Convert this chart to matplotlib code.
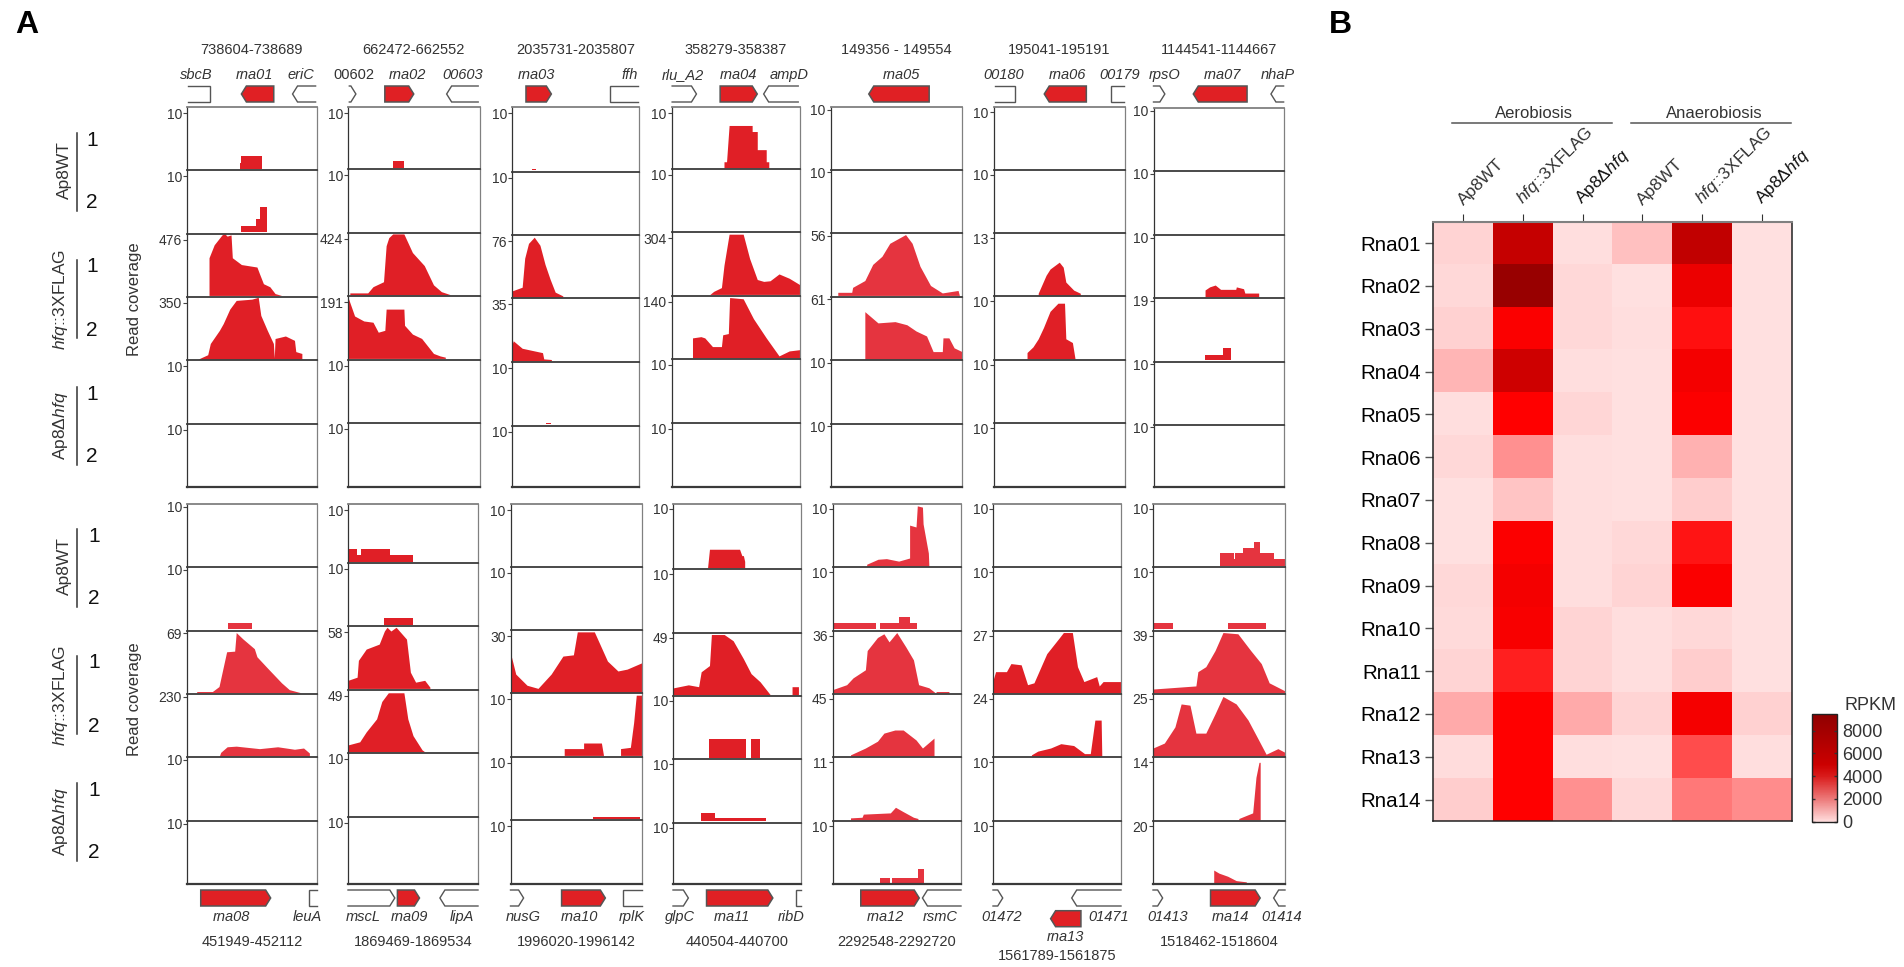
import matplotlib
matplotlib.use("Agg")
import matplotlib.pyplot as plt
from matplotlib.cm import ScalarMappable
from matplotlib.colors import LinearSegmentedColormap, Normalize
from matplotlib.patches import Polygon
import numpy as np

plt.rcParams["font.family"] = ["Liberation Sans", "DejaVu Sans"]
plt.rcParams["mathtext.fontset"] = "custom"
plt.rcParams["mathtext.rm"] = "Liberation Sans"
plt.rcParams["mathtext.it"] = "Liberation Sans:italic"

W, H = 1904, 967

# --- panel A data -----------------------------------------------------------
# coverage tracks: (position in window %, coverage in % of track height)
rna01_wt1 = [(41, 0), (41, 10), (42, 10), (42, 20), (58, 20), (58, 0)]
rna01_wt2 = [(42, 0), (42, 10), (53, 10), (53, 21), (56, 21), (56, 40), (62, 40), (62, 0)]
rna01_f1 = [(17, 0), (17, 61), (21, 82), (27, 98), (29, 100), (31, 96), (34, 98), (35, 61), (42, 50), (54, 46), (56, 35), (59, 19), (64, 14), (68, 3), (73, 0)]
rna01_f2 = [(8.6, 0), (16, 7), (18, 25), (25, 46), (28, 57), (33, 80), (38, 94), (50, 96), (55, 99), (57, 70), (62, 46), (66.7, 25), (67.4, 2), (68, 33), (76, 37), (83, 30), (84, 12), (88.7, 9), (88.7, 0)]

rna02_wt1 = [(34, 0), (34, 12), (42.5, 12), (42.5, 0)]
rna02_f1 = [(1.4, 0), (1.4, 3), (15, 3), (19, 13), (27, 21), (29, 79), (31, 92), (34, 98), (42.5, 98), (49, 68), (58, 47), (65, 16), (71, 5), (78, 0)]
rna02_f2 = [(0, 98), (5, 68), (12, 60), (19, 58), (23, 42), (28, 45), (29, 79), (42.5, 79), (43, 53), (49, 39), (56, 32), (65, 8), (70, 4), (74, 2), (74, 0)]

rna03_wt1 = [(16, 0), (16, 3), (19, 3), (19, 0)]
rna03_f1 = [(0, 10), (8, 16), (10, 63), (13, 87), (17.5, 97), (22, 84), (26, 53), (30, 29), (34, 8), (40, 2), (40, 0)]
rna03_f2 = [(0, 26), (1, 32), (8, 20), (24, 13), (25, 3), (31, 2), (31, 0)]
rna03_d1 = [(27, 0), (27, 3), (31, 3), (31, 0)]

rna04_wt1 = [(41, 0), (41, 10), (43, 10), (45, 70), (63, 70), (63, 60), (67, 60), (67, 30), (74, 30), (74, 10), (76, 10), (76, 0)]
rna04_f1 = [(30, 0), (33, 5), (39, 11), (41, 47), (45, 97), (56, 97), (61, 58), (67, 24), (72, 21), (77, 22), (84, 33), (92, 26), (100, 16)]
rna04_f2 = [(16.4, 0), (16.4, 32), (23, 34), (26, 32), (32, 18), (39, 18), (40, 37), (44.4, 39), (45.4, 97), (56, 95), (64, 63), (74, 32), (84, 3), (92, 11), (100, 13)]

rna05_f1 = [(5.4, 0), (5.4, 5), (16, 5), (16.7, 13), (26, 24), (32, 50), (39, 63), (45, 84), (57, 98), (62, 84), (68, 47), (76, 16), (85, 4), (97, 8), (98, 0)]
rna05_f2 = [(26, 0), (26, 76), (36, 58), (49, 60), (58, 55), (65, 45), (73, 37), (78, 12), (85, 12), (85.5, 34), (90, 34), (94, 18), (100, 12)]

rna06_f1 = [(34, 0), (34, 3), (40, 32), (43, 42), (50, 53), (53, 45), (55, 21), (61, 8), (66, 3), (66, 0)]
rna06_f2 = [(25.5, 0), (25.5, 10), (30, 19), (34, 32), (38, 50), (43, 76), (49, 89), (54, 89), (55, 32), (60, 26), (62, 0)]

rna07_f1 = [(39.5, 0), (39.5, 11), (43, 16), (47.3, 19), (51.4, 12), (63, 12), (63.5, 16), (69, 13), (70, 6), (80.6, 6), (80.6, 0)]
rna07_f2 = [(39.5, 0), (39.5, 9), (53, 9), (53, 20), (59.5, 20), (59.5, 0)]

rna08_wt2 = [(31.6, 0), (31.6, 10), (50.5, 10), (50.5, 0)]
rna08_f1 = [(7.5, 0), (7.5, 2), (19.6, 2), (24.7, 10), (30.6, 66), (36.8, 67), (38, 97), (43, 87), (52, 71), (54, 58), (62.5, 39), (73, 16), (79, 5), (88, 0)]
rna08_f2 = [(25, 0), (26, 6), (31, 15), (38, 16), (56, 12), (70, 15), (83, 11), (90, 13), (94.5, 5), (94.5, 0)]

rna09_wt1 = [(0, 22), (7, 22), (7, 11), (10, 11), (10, 22), (32, 22), (32, 11), (50, 11), (50, 0)]
rna09_wt2 = [(27.6, 0), (27.6, 11.5), (50, 11.5), (50, 0)]
rna09_f1 = [(0, 13), (7, 18), (8, 45), (14, 63), (24, 71), (28, 92), (30, 98), (33, 92), (37, 98), (45, 79), (48, 26), (52, 10), (59, 13), (63, 2), (63, 0)]
rna09_f2 = [(0, 11), (9, 16), (14, 32), (22, 53), (26, 81), (31, 95), (43, 95), (46, 53), (50, 26), (57, 3), (59, 0)]

rna10_f1 = [(0, 63), (4, 29), (12.6, 11), (21, 6), (31, 29), (40, 58), (48, 60), (51, 97), (64, 97), (74, 50), (82, 34), (89, 37), (100, 47)]
rna10_f2 = [(41, 0), (41, 11), (55.8, 11), (55.8, 20), (69.4, 20), (71, 0), (84, 0), (84, 11), (91.5, 13), (94, 53), (96, 97), (100, 97)]
rna10_d1 = [(63, 0), (63, 3), (99, 3), (99, 0)]

rna11_wt1 = [(27, 0), (28.5, 29), (52, 29), (53.8, 19), (55, 19), (56, 10), (56, 0)]
rna11_f1 = [(0, 11), (12, 16), (20, 13), (22, 37), (28.5, 47), (30, 97), (40, 97), (47, 87), (55, 58), (61, 34), (68, 21), (76, 0), (93, 0), (93, 13), (98, 13), (98, 0)]
rna11_f2 = [(27.9, 0), (27.9, 30), (57, 30), (57, 0), (60.7, 0), (60.7, 30), (68, 30), (68, 0)]
rna11_d1 = [(22, 0), (22, 13), (32.5, 13), (32.5, 5), (73, 5), (73, 0)]

rna12_wt1 = [(26.6, 0), (26.6, 3), (35.4, 11), (42, 12), (51.5, 8), (60, 13), (60, 66), (65, 63), (66, 97), (70, 95), (70.5, 68), (74.6, 21), (75, 0)]
rna12_wt2 = [(1, 0), (1, 11), (34, 11), (34, 0), (37, 0), (37, 11), (52, 11), (52, 20), (60, 20), (60, 11), (65.6, 11), (65.6, 0)]
rna12_f1 = [(0, 5), (11, 13), (16, 24), (25.6, 37), (27, 68), (35, 89), (40, 95), (44, 82), (50, 97), (57, 74), (63, 53), (67, 13), (75, 8), (80, 0), (80.6, 0), (80.6, 2), (90.6, 2), (90.6, 0)]
rna12_f2 = [(14, 0), (14, 2), (25.6, 13), (35, 24), (40, 37), (48.5, 42), (55, 42), (65, 26), (70, 13), (79, 29), (79, 0)]
rna12_d1 = [(14, 0), (14, 3), (23, 4), (24, 9), (45, 11), (49, 20), (55, 13), (63, 4), (66.5, 2), (66.5, 0)]
rna12_d2 = [(37, 0), (37, 8), (44.6, 8), (44.6, 0), (46, 0), (46, 8), (66.6, 8), (66.6, 22), (71.5, 22), (71.5, 0)]

rna13_f1 = [(0, 20), (2, 34), (10.5, 34), (14, 47), (22, 45), (27, 13), (32, 16), (42, 63), (52, 89), (55, 97), (62, 97), (66, 42), (71, 18), (81, 26), (83, 11), (86, 18), (100, 18)]
rna13_f2 = [(30, 0), (30, 2), (35, 8), (45, 13), (53, 20), (63, 17), (71.5, 4), (76, 4), (79.6, 58), (84.5, 58), (85, 0)]

rna14_wt1 = [(50.6, 0), (50.6, 20), (61, 20), (61, 11), (62, 11), (62, 20), (68, 20), (68, 29), (76.4, 29), (76.4, 39), (81.2, 39), (81.2, 20), (91.4, 20), (91.4, 11), (100, 11)]
rna14_wt2 = [(0, 10), (15, 10), (15, 0), (57, 0), (57, 10), (85.7, 10), (85.7, 0)]
rna14_f1 = [(0, 6), (32.5, 11), (34, 34), (40, 42), (47, 68), (53, 97), (64.3, 95), (74, 68), (82, 47), (88, 16), (100, 3)]
rna14_f2 = [(0, 13), (8.6, 21), (16.6, 47), (21.3, 84), (28, 82), (32.5, 37), (40, 37), (47, 68), (53, 96), (63, 84), (72, 58), (80, 26), (85.7, 3), (94.6, 12), (100, 6)]
rna14_d1 = [(65, 0), (65, 2), (75.5, 11), (78, 68), (80.3, 92), (81.2, 92), (81.2, 0)]
rna14_d2 = [(46, 0), (46, 21), (50, 16), (56.6, 11), (63, 4), (70.7, 2), (70.7, 0)]

# one row per RNA, tracks: WT1, WT2, FLAG1, FLAG2, dHfq1, dHfq2
coverage = [
    [rna01_wt1, rna01_wt2, rna01_f1, rna01_f2, None, None],
    [rna02_wt1, None, rna02_f1, rna02_f2, None, None],
    [rna03_wt1, None, rna03_f1, rna03_f2, rna03_d1, None],
    [rna04_wt1, None, rna04_f1, rna04_f2, None, None],
    [None, None, rna05_f1, rna05_f2, None, None],
    [None, None, rna06_f1, rna06_f2, None, None],
    [None, None, rna07_f1, rna07_f2, None, None],
    [None, rna08_wt2, rna08_f1, rna08_f2, None, None],
    [rna09_wt1, rna09_wt2, rna09_f1, rna09_f2, None, None],
    [None, None, rna10_f1, rna10_f2, rna10_d1, None],
    [rna11_wt1, None, rna11_f1, rna11_f2, rna11_d1, None],
    [rna12_wt1, rna12_wt2, rna12_f1, rna12_f2, rna12_d1, rna12_d2],
    [None, None, rna13_f1, rna13_f2, None, None],
    [rna14_wt1, rna14_wt2, rna14_f1, rna14_f2, rna14_d1, rna14_d2],
]

track_scales = [
    [10, 10, 476, 350, 10, 10], [10, 10, 424, 191, 10, 10], [10, 10, 76, 35, 10, 10],
    [10, 10, 304, 140, 10, 10], [10, 10, 56, 61, 10, 10], [10, 10, 13, 10, 10, 10],
    [10, 10, 10, 19, 10, 10], [10, 10, 69, 230, 10, 10], [10, 10, 58, 49, 10, 10],
    [10, 10, 30, 10, 10, 10], [10, 10, 49, 10, 10, 10], [10, 10, 36, 45, 11, 10],
    [10, 10, 27, 24, 10, 10], [10, 10, 39, 25, 14, 20],
]

coords = ["738604-738689", "662472-662552", "2035731-2035807", "358279-358387",
          "149356 - 149554", "195041-195191", "1144541-1144667", "451949-452112",
          "1869469-1869534", "1996020-1996142", "440504-440700", "2292548-2292720",
          "1561789-1561875", "1518462-1518604"]

# genes: name, start %, end %, shape
# L/R filled arrow, oL/oR open arrow cut by the window, bL/bR open box cut by the window
genes = [
    [("sbcB", 0.7, 18, "bR"), ("rna01", 42, 67, "L"), ("eriC", 81.5, 99.3, "oL")],
    [("00602", 1, 6, "oR"), ("rna02", 28, 50, "R"), ("00603", 75, 99, "oL")],
    [("rna03", 11, 31, "R"), ("ffh", 77, 99, "bL")],
    [("rlu_A2", 0.5, 19.5, "oR"), ("rna04", 38, 67, "R"), ("ampD", 72, 99, "oL")],
    [("rna05", 29, 75, "L")],
    [("00180", 1, 16, "bR"), ("rna06", 38.6, 70.6, "L"), ("00179", 89, 99, "bL")],
    [("rpsO", 0, 8.7, "oR"), ("rna07", 30.5, 71.7, "L"), ("nhaP", 90, 99.7, "oL")],
    [("rna08", 10.6, 64.6, "R"), ("leuA", 94, 100, "bL")],
    [("mscL", 0, 36, "oR"), ("rna09", 38, 55, "R"), ("lipA", 70.7, 100, "oL")],
    [("nusG", 0, 10, "oR"), ("rna10", 39, 72.4, "R"), ("rplK", 86, 100, "bL")],
    [("glpC", 0, 12, "oR"), ("rna11", 26.2, 78, "R"), ("ribD", 96, 100, "bL")],
    [("rna12", 22, 67.5, "R"), ("rsmC", 70, 100, "oL")],
    [("01472", 0, 7.6, "oR"), ("rna13", 45, 68.7, "L"), ("01471", 61.5, 100, "oL")],
    [("01413", 0, 7.3, "oR"), ("rna14", 43.6, 81.2, "R"), ("01414", 91.4, 100, "oL")],
]
gene_label_x = [
    [7, 52, 88], [4.4, 45, 87], [19, 93], [9, 52, 92], [53.5], [8, 56, 96], [8.7, 53, 95],
    [34, 93], [12, 47.6, 88], [10, 52.7, 92.5], [5.6, 46, 92.5], [41, 84], [6.6, 56.6, 90],
    [11, 58.6, 97.8],
]

# --- panel B data -----------------------------------------------------------
rna_names = ["Rna%02d" % i for i in range(1, 15)]
strain_names = ["Ap8WT", r"$\mathit{hfq}$::3XFLAG", r"Ap8$\Delta\mathit{hfq}$"] * 2
rpkm_ap8wt_aer = [280, 170, 320, 880, 40, 170, 30, 30, 170, 120, 230, 1080, 80, 400]
rpkm_flag_aer = [6930, 8900, 4640, 6560, 4500, 1600, 560, 4600, 4950, 4800, 3860, 4500, 4500, 4500]
rpkm_dhfq_aer = [60, 170, 170, 50, 200, 40, 40, 40, 50, 230, 230, 1080, 40, 1600]
rpkm_ap8wt_ana = [640, 20, 40, 30, 30, 30, 30, 170, 230, 40, 40, 230, 30, 170]
rpkm_flag_ana = [7100, 5260, 4180, 4950, 4600, 960, 400, 4100, 4650, 170, 400, 4900, 2970, 2090]
rpkm_dhfq_ana = [20, 20, 20, 20, 20, 20, 30, 30, 30, 30, 30, 320, 40, 1690]
cbar_ticks = [0, 2000, 4000, 6000, 8000]

# --- layout, pixels ---------------------------------------------------------
col_left = [187, 348, 512, 671.5, 830.7, 993.5, 1153.5, 187, 348, 510.5, 673, 832.5, 993, 1153]
col_right = [316.5, 479.5, 639, 799.5, 962, 1125, 1284, 316.5, 478, 641.5, 801, 961, 1121, 1285]
top_edges = [[322, 510, 701, 890, 1081, 1272, 1460], [322, 508, 698, 888, 1079, 1268, 1460],
             [322, 515, 706, 895, 1086, 1277, 1460], [322, 507, 697, 887, 1077, 1268, 1460],
             [322, 510, 700, 890, 1081, 1272, 1460], [322, 510, 699, 889, 1080, 1270, 1460],
             [325, 513, 705, 894, 1085, 1275, 1462]]
bot_edges = [[72, 261, 452, 642, 832, 1023, 1213], [72, 248, 438, 629, 819, 1010, 1213],
             [72, 260, 450, 640, 830, 1020, 1213], [72, 267, 458, 648, 838, 1028, 1213],
             [72, 262, 452, 642, 832, 1023, 1213], [72, 261, 452, 642, 832, 1023, 1213],
             [72, 261, 452, 642, 832, 1023, 1213]]
track_edges = [[v / 3 for v in e] for e in top_edges] + [[480 + v / 3 for v in e] for e in bot_edges]
tick_drop = [6, 6, 6, 6, 2.5, 5, 2.5, 2.5, 6, 6, 5, 5, 5, 5]
fill_colors = ["#E01F26"] * 14
for i in (4, 7, 11, 13):
    fill_colors[i] = "#E5343F"


def px_axes(x0, y0, x1, y1, **kw):
    # axes from pixel box, y counted from the top
    return fig.add_axes([x0 / W, 1 - y1 / H, (x1 - x0) / W, (y1 - y0) / H], **kw)


def ftext(x, y, s, **kw):
    return fig.text(x / W, 1 - y / H, s, **kw)


def draw_gene(ax, start, end, shape, head):
    # flat y range 0..1, the window is 0..100
    if shape == "R":
        pts = [(start, 0), (end - head, 0), (end, .5), (end - head, 1), (start, 1)]
    elif shape == "L":
        pts = [(end, 0), (start + head, 0), (start, .5), (start + head, 1), (end, 1)]
    elif shape == "oR":
        pts = [(start, 0), (max(end - head, start), 0), (end, .5), (max(end - head, start), 1), (start, 1)]
    elif shape == "oL":
        pts = [(end, 0), (min(start + head, end), 0), (start, .5), (min(start + head, end), 1), (end, 1)]
    elif shape == "bR":
        pts = [(start, 0), (end, 0), (end, 1), (start, 1)]
    else:
        pts = [(end, 0), (start, 0), (start, 1), (end, 1)]
    if shape in ("R", "L"):
        ax.add_patch(Polygon(pts, closed=True, fc="#E02024", ec="#555555", lw=1.1, clip_on=False))
    else:
        xs, ys = zip(*pts)
        ax.plot(xs, ys, color="#555555", lw=1.0, clip_on=False, solid_joinstyle="miter")


fig = plt.figure(figsize=(W / 100, H / 100), dpi=100)

# --- panel A ----------------------------------------------------------------
for c in range(14):
    x0, x1 = col_left[c], col_right[c]
    edges = track_edges[c]
    for t in range(6):
        ax = px_axes(x0, edges[t], x1, edges[t + 1])
        ax.set_xlim(0, 100)
        ax.set_ylim(-2, 100)
        ax.set_xticks([])
        tick_y = 100 - tick_drop[c] / (edges[t + 1] - edges[t]) * 102
        ax.set_yticks([tick_y])
        ax.set_yticklabels([str(track_scales[c][t])], fontsize=10, color="#333333")
        ax.tick_params(axis="y", length=2.6, width=0.8, color="#444444", pad=1)
        ax.spines["left"].set(color="#333333", lw=0.9)
        ax.spines["right"].set(color="#808080", lw=0.9)
        ax.spines["top"].set(color="#808080" if t == 0 else "#3A3A3A", lw=1.3)
        ax.spines["bottom"].set_visible(t == 5)
        ax.spines["bottom"].set(color="#3A3A3A", lw=1.6)
        ax.patch.set_alpha(0)
        prof = coverage[c][t]
        if prof is not None:
            xs, ys = zip(*prof)
            ax.fill_between(xs, 0, ys, color=fill_colors[c], lw=0)

    upper = c < 7
    row_y = 86 if upper else 890
    gene_ax = px_axes(x0, row_y, x1, row_y + 16)
    gene_ax.set_xlim(0, 100)
    gene_ax.set_ylim(0, 1)
    gene_ax.axis("off")
    low_ax = px_axes(x0, 910.7, x1, 926.7)
    low_ax.set_xlim(0, 100)
    low_ax.set_ylim(0, 1)
    low_ax.axis("off")
    head = 5 / (x1 - x0) * 100
    for (name, start, end, shape), lab_x in zip(genes[c], gene_label_x[c]):
        px_lab = x0 + lab_x / 100 * (x1 - x0)
        if name == "rna13":
            draw_gene(low_ax, start, end, shape, head)
            lab_y = 937
        else:
            draw_gene(gene_ax, start, end, shape, head)
            lab_y = 75 if upper else 917
        ftext(px_lab, lab_y, name, fontsize=10.5, color="#333333", ha="center", va="center",
              style="normal" if name == "00602" else "italic")
    if upper:
        coord_y = 50
    elif c == 12:
        coord_y = 956
    else:
        coord_y = 942
    ftext((x0 + x1) / 2, coord_y, coords[c], fontsize=10.5, color="#333333", ha="center", va="center")

# strain groups on the left
strain_labels = ["Ap8WT", r"$\mathit{hfq}$::3XFLAG", r"Ap8$\Delta\mathit{hfq}$"]
strain_x = [64.5, 60.5, 61]
for y_off in (0, 396):
    for s, (y_mid, lab, lab_x) in enumerate(zip((172, 299, 426), strain_labels, strain_x)):
        ftext(lab_x, y_mid + y_off - (2 if s == 0 else 0), lab, rotation=90, fontsize=12.5, color="#333333",
              ha="center", va="center")
        fig.add_artist(plt.Line2D([77 / W, 77 / W], [1 - (y_mid - 39 + y_off) / H, 1 - (y_mid + 39 + y_off) / H],
                                  color="#333333", lw=1.1))
        ftext(92 + (2 if y_off else 0), y_mid - 32 + y_off, "1", fontsize=15, color="#111111", ha="center", va="center")
        ftext(92 + (2 if y_off else 0), y_mid + 31 + y_off, "2", fontsize=15, color="#111111", ha="center", va="center")
    ftext(134, 299 + y_off + (4 if y_off else 0), "Read coverage", rotation=90, fontsize=12, color="#333333",
          ha="center", va="center")

ftext(27, 25, "A", fontsize=23, fontweight="bold", color="black", ha="center", va="center")
ftext(1340, 25, "B", fontsize=23, fontweight="bold", color="black", ha="center", va="center")

# --- panel B ----------------------------------------------------------------
rpkm = np.array([rpkm_ap8wt_aer, rpkm_flag_aer, rpkm_dhfq_aer, rpkm_ap8wt_ana, rpkm_flag_ana, rpkm_dhfq_ana]).T
cmap = LinearSegmentedColormap.from_list(
    "rpkm", [(0, "#FFE0E0"), (4500 / 9465, "#FF0000"), (1, "#8B0000")])
hm = px_axes(1433, 221.7, 1792, 821)
im = hm.imshow(rpkm, cmap=cmap, vmin=0, vmax=9465, aspect="auto", interpolation="nearest")
hm.set_yticks(range(14))
hm.set_yticklabels(rna_names, fontsize=14.8, color="black")
hm.tick_params(axis="y", length=5.5, width=1, color="#555555", pad=3)
hm.xaxis.tick_top()
hm.set_xticks(range(6))
hm.set_xticklabels([])
hm.tick_params(axis="x", length=5.5, width=0.8, color="#333333")
for j, lab in enumerate(strain_names):
    hm.annotate(lab, xy=(j, -0.5), xycoords=("data", "data"), xytext=(2, 10), textcoords="offset points",
                rotation=45, rotation_mode="anchor", ha="left", va="bottom", fontsize=12.5,
                color="#111111" if j in (2, 5) else "#333333", annotation_clip=False)
for side in ("left", "right", "bottom"):
    hm.spines[side].set(color="#222222", lw=1.1)
hm.spines["top"].set(color="#808080", lw=1.5)

for x_a, x_b, x_t, lab in ((1452, 1612, 1534, "Aerobiosis"), (1630.5, 1791, 1714, "Anaerobiosis")):
    fig.add_artist(plt.Line2D([x_a / W, x_b / W], [1 - 123 / H, 1 - 123 / H], color="#555555", lw=1.1))
    ftext(x_t, 113.3, lab, fontsize=12, color="#333333", ha="center", va="center")

# the key in the figure is darker than the cells, so it gets its own ramp
key_cmap = LinearSegmentedColormap.from_list(
    "rpkm_key", [(0, "#FFDCDC"), (2000 / 9465, "#EC7878"), (4000 / 9465, "#D91A1A"),
                 (5000 / 9465, "#CC0000"), (8000 / 9465, "#A30000"), (1, "#8F0000")])
cax = px_axes(1812.4, 714, 1837, 821.5)
cb = fig.colorbar(ScalarMappable(Normalize(0, 9465), key_cmap), cax=cax, ticks=cbar_ticks)
cb.outline.set_edgecolor("#222222")
cb.outline.set_linewidth(1)
cax.tick_params(axis="y", which="both", left=True, right=True, direction="in", length=2.5, width=1,
                color="#333333", labelsize=13, labelcolor="#333333", pad=4)
ftext(1844, 706, "RPKM", fontsize=13, color="#333333", ha="left", va="center")

fig.savefig("out.png", dpi=100)
